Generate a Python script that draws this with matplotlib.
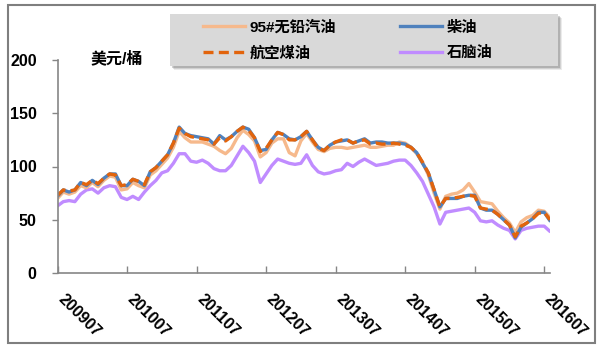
import matplotlib
matplotlib.use('Agg')
import matplotlib.pyplot as plt
from matplotlib.patches import Rectangle
from matplotlib.lines import Line2D
import matplotlib.transforms as mtransforms
import numpy as np

plt.rcParams['font.family'] = ['Liberation Sans', 'Noto Sans CJK SC', 'DejaVu Sans']
plt.rcParams['font.weight'] = 'bold'

# Monthly prices, 200907 .. 201608 (USD/barrel)
gasoline = [70, 76, 74, 76, 82, 80, 85, 81, 87, 91, 90, 78, 79, 85, 82, 80, 92, 96, 102, 108,
            118, 133, 127, 123, 123, 123, 121, 119, 115, 112, 117, 127, 134, 130, 124, 109, 113, 122, 126, 126,
            113, 110, 124, 131, 123, 116, 114, 117, 118, 118, 117, 118, 119, 120, 118, 118, 119, 120, 120, 123,
            122, 118, 112, 104, 92, 75, 60, 72, 74, 75, 78, 84, 76, 67, 66, 65, 58, 52, 47, 38,
            48, 52, 54, 59, 58, 52]
diesel = [72, 78, 76, 78, 85, 82, 87, 83, 89, 93, 93, 82, 82, 88, 86, 82, 95, 99, 105, 111,
          122, 137, 131, 129, 128, 127, 126, 121, 129, 125, 128, 133, 137, 135, 127, 115, 116, 125, 132, 130,
          126, 125, 128, 133, 125, 118, 115, 120, 123, 124, 125, 122, 124, 126, 122, 123, 123, 122, 122, 122,
          121, 118, 113, 103, 94, 78, 62, 70, 70, 70, 72, 73, 73, 61, 59, 59, 55, 50, 45, 33,
          43, 47, 51, 57, 57, 49]
jet_fuel = [73, 78, 77, 78, 85, 83, 87, 84, 89, 93, 92, 82, 83, 88, 86, 83, 95, 99, 105, 111,
            122, 136, 131, 128, 127, 126, 125, 121, 127, 124, 128, 133, 137, 134, 127, 114, 117, 125, 132, 130,
            125, 125, 128, 133, 125, 117, 115, 120, 123, 125, 125, 122, 124, 125, 121, 122, 121, 121, 122, 121,
            120, 118, 113, 104, 94, 78, 62, 70, 70, 71, 72, 73, 72, 61, 60, 59, 55, 50, 45, 34,
            44, 47, 51, 56, 57, 50]
naphtha = [63, 67, 68, 67, 74, 78, 79, 75, 80, 82, 81, 71, 69, 72, 69, 76, 82, 87, 94, 96,
           103, 112, 112, 105, 104, 106, 103, 98, 96, 96, 101, 110, 119, 113, 105, 85, 93, 101, 107, 105,
           103, 102, 103, 111, 101, 95, 93, 94, 96, 97, 103, 100, 104, 107, 104, 101, 102, 103, 105, 106,
           106, 101, 94, 86, 74, 62, 46, 57, 58, 59, 60, 61, 57, 49, 48, 49, 45, 42, 40, 32,
           40, 42, 43, 44, 44, 39]

tick_labels = ['200907', '201007', '201107', '201207', '201307', '201407', '201507', '201607']
y_ticks = [0, 50, 100, 150, 200]
series_names = ['95#无铅汽油', '航空煤油', '柴油', '石脑油']

c_gas = '#F6B98C'
c_diesel = '#4F81BD'
c_jet = '#E2640C'
c_nap = '#C08CFF'

W, H = 601, 351
fig = plt.figure(figsize=(W / 100, H / 100), dpi=100)
fig.patch.set_facecolor('white')

def fx(px):
    return px / W

def fy(py):
    return 1 - py / H

ax = fig.add_axes([fx(57.5), fy(273), fx(550) - fx(57.5), fy(60) - fy(273)])
ax.patch.set_visible(False)

x = np.arange(len(diesel))
lw = 2.4
ax.plot(x, naphtha, color=c_nap, lw=lw, solid_joinstyle='round', solid_capstyle='round')
ax.plot(x, gasoline, color=c_gas, lw=lw, solid_joinstyle='round', solid_capstyle='round')
ax.plot(x, diesel, color=c_diesel, lw=lw, solid_joinstyle='round', solid_capstyle='round')
ax.plot(x, jet_fuel, color=c_jet, lw=lw, dashes=(3, 1.6), dash_joinstyle='round')

ax.set_xlim(0, len(diesel) - 1)
ax.set_ylim(0, 200)

for s in ['top', 'right']:
    ax.spines[s].set_visible(False)
for s in ['left', 'bottom']:
    ax.spines[s].set_color('#868686')
    ax.spines[s].set_linewidth(1.2)

ax.set_yticks(y_ticks)
ax.set_yticklabels([str(v) for v in y_ticks], fontsize=11.5, fontweight='bold')
ax.tick_params(axis='y', direction='out', length=4, width=1, color='#868686', pad=11)

xt = np.arange(0, len(diesel), 12)
ax.set_xticks(xt)
ax.set_xticklabels(tick_labels[:len(xt)], fontsize=11.5, fontweight='bold',
                   rotation=-45, ha='left', va='top', rotation_mode='anchor')
ax.tick_params(axis='x', direction='in', length=5, width=1, color='#868686', pad=13)
offset = mtransforms.ScaledTranslation(8 / 100, 0, fig.dpi_scale_trans)
for lab in ax.get_xticklabels():
    lab.set_transform(lab.get_transform() + offset)

fig.text(fx(117), fy(58), '美元/桶', ha='center', va='center', fontsize=11.5, fontweight='bold')

# legend box with shadow
for i, a in enumerate([0.12, 0.18, 0.28]):
    d = 4 - i
    fig.patches.append(Rectangle((fx(170 + d), fy(66 + d)), fx(388), 52 / H,
                                 transform=fig.transFigure, facecolor='#606060', alpha=a,
                                 edgecolor='none', zorder=2))
fig.patches.append(Rectangle((fx(170), fy(66)), fx(388), 52 / H, transform=fig.transFigure,
                             facecolor='#D9D9D9', edgecolor='none', zorder=3))

handles = [Line2D([], [], color=c_gas, lw=lw),
           Line2D([], [], color=c_jet, lw=lw, dashes=(3, 1.6)),
           Line2D([], [], color=c_diesel, lw=lw),
           Line2D([], [], color=c_nap, lw=lw)]
labels = [series_names[0], series_names[1], series_names[2], series_names[3]]
leg = fig.legend(handles, labels, ncol=2, frameon=False, loc='upper left',
                 bbox_to_anchor=(fx(203), fy(20)), bbox_transform=fig.transFigure,
                 borderpad=0, borderaxespad=0, handlelength=2.75, handletextpad=0.3,
                 columnspacing=4.2, labelspacing=0.75,
                 prop={'size': 11, 'weight': 'bold'})
leg.set_zorder(5)

# outer border
fig.patches.append(Rectangle((fx(8), fy(343)), fx(587), 338 / H, transform=fig.transFigure,
                             facecolor='none', edgecolor='#7F7F7F', lw=1.5, zorder=10))

fig.savefig('out.png', dpi=100)
